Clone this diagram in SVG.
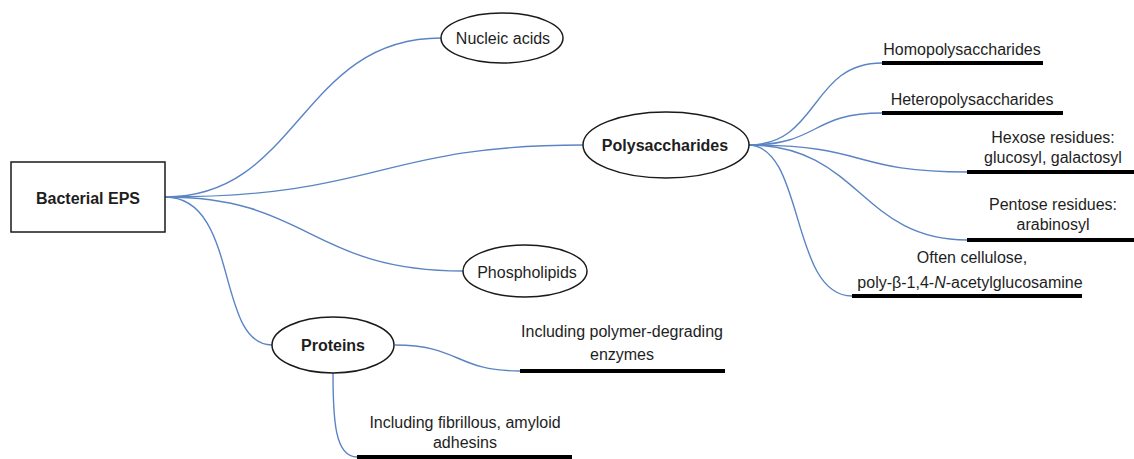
<svg xmlns="http://www.w3.org/2000/svg" width="1134" height="459" viewBox="0 0 1134 459">
<style>
.bg{fill:#ffffff}
.node{fill:#ffffff;stroke:#1a1a1a;stroke-width:1.5}
.t{font-family:"Liberation Sans",Arial,sans-serif;font-size:16px;fill:#1e1e1e;text-anchor:middle}
.b{font-weight:bold;font-size:16px}
.ul{stroke:#000000;stroke-width:4;fill:none}
.c{fill:none;stroke:#5b84c4;stroke-width:1.4}
</style>
<rect class="bg" x="0" y="0" width="1134" height="459"/>
<g id="connectors">
<path class="c" d="M165,197 C300,197 300,38 441,38"/>
<path class="c" d="M165,197 C380,197 380,145 583,145"/>
<path class="c" d="M165,197 C310,197 310,271 463,271"/>
<path class="c" d="M165,197 C240,197 215,345 272,345"/>
<path class="c" d="M748,145 C820,145 810,63 882,63"/>
<path class="c" d="M748,145 C820,145 810,113 882,113"/>
<path class="c" d="M748,145 C870,145 850,172 967,172"/>
<path class="c" d="M748,145 C860,145 860,240 967,240"/>
<path class="c" d="M748,145 C805,145 790,296 852,296"/>
<path class="c" d="M395,345 C460,345 455,371 520,371"/>
<path class="c" d="M333,373 C333,420 335,457 357,457"/>
</g>
<g id="bacterial-eps">
<rect class="node" x="11" y="162" width="154" height="70"/>
<text class="t b" x="88" y="204">Bacterial EPS</text>
</g>
<g id="nucleic-acids">
<ellipse class="node" cx="502" cy="38" rx="61" ry="25"/>
<text class="t" x="503" y="44">Nucleic acids</text>
</g>
<g id="polysaccharides">
<ellipse class="node" cx="666" cy="145" rx="83" ry="33"/>
<text class="t b" x="665" y="151">Polysaccharides</text>
</g>
<g id="phospholipids">
<ellipse class="node" cx="525" cy="271" rx="62" ry="26"/>
<text class="t" x="527" y="278">Phospholipids</text>
</g>
<g id="proteins">
<ellipse class="node" cx="333" cy="345" rx="61" ry="28"/>
<text class="t b" x="333" y="351">Proteins</text>
</g>
<g id="homopolysaccharides">
<line class="ul" x1="882" y1="63" x2="1043" y2="63"/>
<text class="t" x="962" y="55">Homopolysaccharides</text>
</g>
<g id="heteropolysaccharides">
<line class="ul" x1="882" y1="113" x2="1063" y2="113"/>
<text class="t" x="972" y="105">Heteropolysaccharides</text>
</g>
<g id="hexose">
<line class="ul" x1="967" y1="172" x2="1134" y2="172"/>
<text class="t" x="1053" y="143">Hexose residues:</text>
<text class="t" x="1053" y="163">glucosyl, galactosyl</text>
</g>
<g id="pentose">
<line class="ul" x1="967" y1="240" x2="1134" y2="240"/>
<text class="t" x="1053" y="210">Pentose residues:</text>
<text class="t" x="1053" y="230">arabinosyl</text>
</g>
<g id="cellulose">
<line class="ul" x1="852" y1="296" x2="1082" y2="296"/>
<text class="t" x="972" y="263">Often cellulose,</text>
<text class="t" x="970" y="288">poly-β-1,4-<tspan font-style="italic">N</tspan>-acetylglucosamine</text>
</g>
<g id="polymer-degrading">
<line class="ul" x1="520" y1="371" x2="725" y2="371"/>
<text class="t" x="622" y="337">Including polymer-degrading</text>
<text class="t" x="622" y="360">enzymes</text>
</g>
<g id="fibrillous">
<line class="ul" x1="357" y1="457" x2="572" y2="457"/>
<text class="t" x="465" y="428">Including fibrillous, amyloid</text>
<text class="t" x="465" y="448">adhesins</text>
</g>
</svg>
